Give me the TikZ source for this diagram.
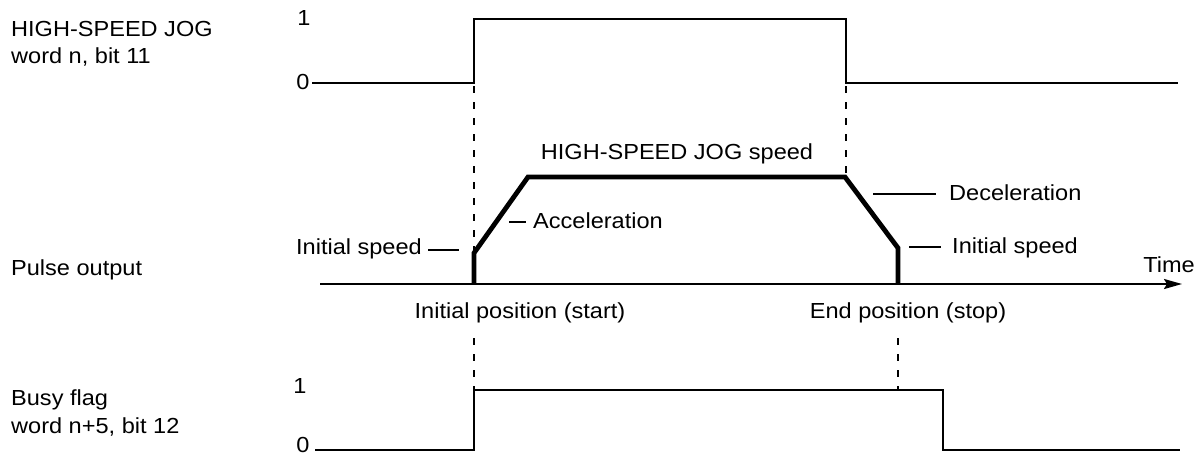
\documentclass[tikz,border=0pt]{standalone}
\usepackage{fontspec}
\setmainfont{Liberation Sans}
\usepackage{graphicx}
\usetikzlibrary{arrows.meta}
\newcommand{\sx}[1]{\scalebox{1.08}[1]{#1}}
\begin{document}
\begin{tikzpicture}[x=1pt,y=-1pt,
  lbl/.style={inner sep=0pt, font=\fontsize{21.8}{26}\selectfont},
  sig/.style={line width=2.2pt},
  pulse/.style={line width=4.8pt, line join=miter},
  guide/.style={line width=2.2pt, dash pattern=on 7pt off 9pt},
  tickln/.style={line width=2.2pt}]
\useasboundingbox (0,0) rectangle (1201,456);

% left labels
\node[lbl,anchor=base west] (jogA) at (11,36) {\sx{HIGH-SPEED JOG}};
\node[lbl,anchor=base west] (jogB) at (11,63) {\sx{word n, bit 11}};
\node[lbl,anchor=base west] (pulseL) at (11,275) {\sx{Pulse output}};
\node[lbl,anchor=base west] (busyA) at (11,405) {\sx{Busy flag}};
\node[lbl,anchor=base west] (busyB) at (11,433) {\sx{word n+5, bit 12}};

% level marks
\node[lbl,anchor=base] (oneT) at (304,25) {\sx{1}};
\node[lbl,anchor=base] (zeroT) at (303,89) {\sx{0}};
\node[lbl,anchor=base] (oneB) at (300,393) {\sx{1}};
\node[lbl,anchor=base] (zeroB) at (303,452) {\sx{0}};

% top signal
\coordinate (tRise) at (474,83);
\coordinate (tFall) at (846,83);
\draw[sig] (312,83) -- (tRise) -- (474,19) -- (846,19) -- (tFall) -- (1178,83);

% pulse output
\coordinate (pStart) at (474,284);
\coordinate (pInit) at (474,253);
\coordinate (pTop1) at (528,177);
\coordinate (pTop2) at (845,177);
\coordinate (pEndSp) at (898,248);
\coordinate (pEnd) at (898,284);
\coordinate (axL) at (320,284);
\coordinate (axR) at (1182,284);
\draw[line width=2.2pt,-{Stealth[length=18pt,width=10pt,inset=3pt]}] (axL) -- (axR);
\draw[pulse] (pStart) -- (pInit) -- (pTop1) -- (pTop2) -- (pEndSp) -- (pEnd);

% busy flag
\coordinate (bRise) at (474,390);
\draw[sig] (315,450) -- (474,450) -- (bRise) -- (943,390) -- (943,450) -- (1180,450);

% guides
\draw[guide] (tRise) ++(0,3) -- (pInit);
\draw[guide] (tFall) ++(0,3) -- (846,175);
\draw[guide] (474,338) -- (bRise);
\draw[guide] (898,338) -- (898,390);

% pulse labels
\node[lbl,anchor=base] (hsSpeed) at (677,159) {\sx{HIGH-SPEED JOG speed}};
\node[lbl,anchor=base west] (accel) at (533,228) {\sx{Acceleration}};
\draw[tickln] (509,222) -- (526,222);
\node[lbl,anchor=base east] (initL) at (422,254) {\sx{Initial speed}};
\draw[tickln] (428,250) -- (459,250);
\node[lbl,anchor=base west] (decel) at (949,200) {\sx{Deceleration}};
\draw[tickln] (873,194) -- (936,194);
\node[lbl,anchor=base west] (initR) at (952,253) {\sx{Initial speed}};
\draw[tickln] (909,247) -- (941,247);
\node[lbl,anchor=base] (timeL) at (1169,272) {\sx{Time}};
\node[lbl,anchor=base] (startL) at (520,318) {\sx{Initial position (start)}};
\node[lbl,anchor=base] (stopL) at (908,318) {\sx{End position (stop)}};
\end{tikzpicture}
\end{document}
